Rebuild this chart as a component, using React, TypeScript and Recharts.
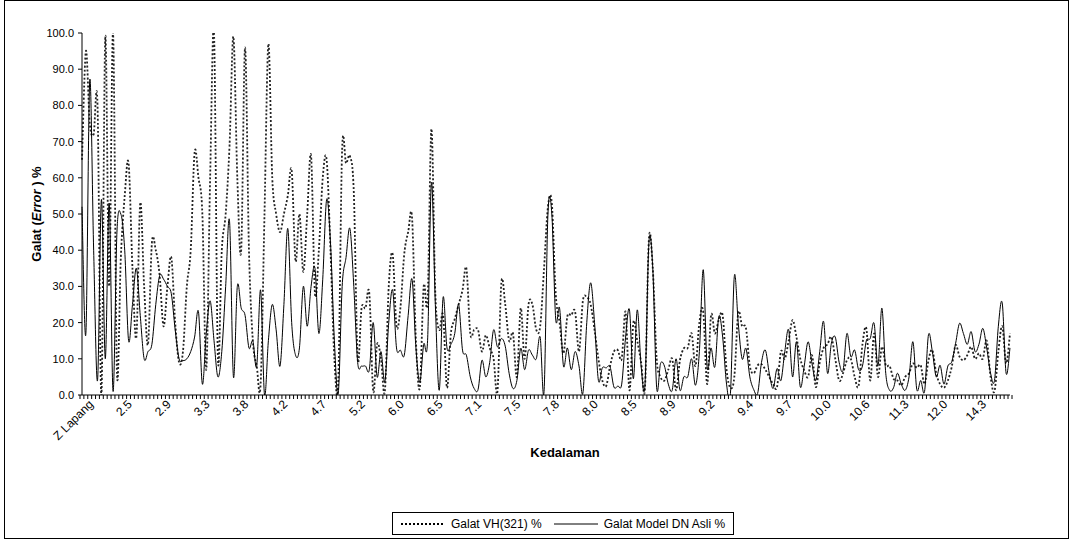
import { LineChart, Line, XAxis, YAxis, Legend, Label } from "recharts";

// depth labels shown on the category axis (every 10th category)
const depthLabels = [
  "Z Lapang", "2.5", "2.9", "3.3", "3.8", "4.2", "4.7", "5.2", "6.0", "6.5", "7.1", "7.5",
  "7.8", "8.0", "8.5", "8.9", "9.2", "9.4", "9.7", "10.0", "10.6", "11.3", "12.0", "14.3"
];
const LABEL_STEP = 10;
const CATEGORY_COUNT = 240;

const galatVH = [
  65, 95, 75, 72, 80, 0, 99, 30, 100, 6, 38, 55,
  64, 35, 16, 53, 30, 14, 42, 40, 33, 19, 30, 38, 20, 9, 12, 30, 40, 67,
  60, 50, 7, 60, 100, 10, 40,
  50, 69, 99, 60, 40, 96, 40, 15, 8, 3, 50, 97, 60, 50, 45, 50,
  55, 62, 37, 50, 34, 50, 66, 28, 40, 60, 65, 40, 10, 4, 68, 64, 66, 56, 10,
  24, 24, 28, 1, 14, 10, 1, 30, 39, 19, 24, 39, 45, 49, 15, 2, 30, 26,
  73.5, 28, 18, 22, 2, 17, 21, 25, 29, 35, 17, 18, 18, 12, 16.5, 13, 10, 1,
  31, 25, 15, 17, 5, 24, 10, 25, 25, 18, 19, 35,
  52, 53, 28, 20, 11.5, 21.7, 22, 23, 12, 26,
  27, 25, 18, 10, 4, 2.5, 8, 12, 12.4, 10,
  23, 1.3, 20, 15, 9, 2, 43, 35, 10, 5,
  4, 7, 10, 1.3, 9.6, 12.9, 13, 17, 8, 20,
  23, 3, 22, 17, 20.7, 22, 7, 2, 5, 22.6,
  19, 18.4, 8, 6, 8.2, 8.5, 7, 5, 3, 2.2,
  12, 10, 15, 20.7, 16, 10, 6.8, 5, 11, 2.2,
  9, 13, 14, 16, 10, 4, 6, 9.6, 10, 5,
  2.5, 14, 18.4, 4, 17, 5, 13.3, 8.2, 8, 4.5,
  4, 2.7, 5, 6, 8.7, 7.5, 8.2, 3, 9.6, 12.4,
  6, 3, 2, 4, 7.8, 13.8, 10.6, 9.6, 11, 13.3,
  10, 11.5, 10, 15, 5, 1, 12, 19,
  8.7, 17
];

const galatModel = [
  52, 17, 87, 40, 4, 54, 10, 53, 1, 45, 50, 40,
  15, 25, 35, 22, 10, 12, 14, 25, 33, 32, 30, 28, 18, 10, 9.5, 10, 12, 16,
  23, 3, 17, 26, 15, 5, 12,
  30, 48, 5, 30, 24, 22, 13, 15, 8, 29, 0, 15, 25, 18, 8, 25,
  46, 20, 11, 13, 30, 19, 30, 35, 17, 32, 54, 42, 15, 0.5, 30, 38, 46, 30, 9,
  8, 8, 7, 20, 5, 12, 3.6, 20, 29, 13, 12.4, 11, 22, 32, 13, 3.6, 14, 15,
  58.7, 25, 1.3, 27, 13, 14, 17, 25, 12.4, 11, 5, 1.8, 1.5, 9.6, 5, 9, 18, 13.3,
  15.6, 13.5, 6, 1.8, 4, 12.9, 7, 12.4, 11, 10, 16, 1,
  50, 50, 21, 24, 8, 13, 7, 12, 8, 0.5,
  20, 31, 20, 4, 7.5, 7.5, 7.8, 2.2, 2.5, 3,
  16, 23.5, 4.5, 23.5, 8, 3, 42, 35, 2, 8.7,
  8, 3, 1.3, 10, 1.3, 5, 5, 10, 2.7, 12,
  34.6, 7.8, 13, 7.8, 21.7, 16, 3, 0.4, 32.8, 20,
  10, 12.9, 5, 1.5, 0.4, 9, 12.4, 6, 1.8, 7.3,
  4, 12, 18, 5, 14.7, 2.2, 8, 14.7, 8.7, 4,
  12, 20.3, 6, 14.3, 16, 9, 6.8, 17, 10.6, 12.4,
  7, 8, 15, 15.6, 19.8, 8, 24, 6, 1.3, 2,
  6, 3, 1.3, 5, 14.7, 1.5, 4, 1, 16.6, 12,
  5, 8.2, 3, 8, 9.2, 14.3, 19.8, 17, 14, 17.5,
  12, 14, 18.4, 13, 6, 4, 19, 25.4,
  6, 13
];

const yTicks = [0, 10, 20, 30, 40, 50, 60, 70, 80, 90, 100];

const seriesOrder = ["vh", "model"];

const chartData = Array.from({ length: CATEGORY_COUNT }, (_, i) => ({
  idx: i,
  vh: galatVH[i] ?? null,
  model: galatModel[i] ?? null
}));

const FONT = "'Liberation Sans', Arial, sans-serif";

// Excel-like smoothed line (Catmull-Rom through every point)
function excelCurve(context: any) {
  let pts: number[][] = [];
  return {
    areaStart() {},
    areaEnd() {},
    lineStart() {
      pts = [];
    },
    point(x: number, y: number) {
      pts.push([+x, +y]);
    },
    lineEnd() {
      if (!pts.length) return;
      context.moveTo(pts[0][0], pts[0][1]);
      for (let i = 0; i < pts.length - 1; i++) {
        const p0 = pts[i - 1] || pts[i];
        const p1 = pts[i];
        const p2 = pts[i + 1];
        const p3 = pts[i + 2] || p2;
        context.bezierCurveTo(
          p1[0] + (p2[0] - p0[0]) / 6,
          p1[1] + (p2[1] - p0[1]) / 6,
          p2[0] - (p3[0] - p1[0]) / 6,
          p2[1] - (p3[1] - p1[1]) / 6,
          p2[0],
          p2[1]
        );
      }
    }
  };
}

function DepthTick(props: any) {
  const { x, y, payload } = props;
  const half = payload.offset || 2;
  const i = payload.value;
  const label = i % LABEL_STEP === 0 ? depthLabels[i / LABEL_STEP] : null;
  const ax = x + 12;
  const ay = y + 10;
  return (
    <g>
      <line x1={x - half} x2={x - half} y1={y} y2={y + 4} stroke="#000" />
      {i === CATEGORY_COUNT - 1 && <line x1={x + half} x2={x + half} y1={y} y2={y + 4} stroke="#000" />}
      {label && (
        <text x={ax} y={ay} transform={`rotate(-45 ${ax} ${ay})`} textAnchor="end" fontSize={12} fontFamily={FONT} fill="#000">
          {label}
        </text>
      )}
    </g>
  );
}

function YTitle(props: any) {
  const vb = props.viewBox;
  const cx = 36;
  const cy = vb.y + vb.height / 2;
  return (
    <text x={cx} y={cy} transform={`rotate(-90 ${cx} ${cy})`} textAnchor="middle" dominantBaseline="central" fontSize={13} fontWeight="bold" fontFamily={FONT} fill="#000">
      <tspan>Galat (</tspan>
      <tspan fontStyle="italic">Error</tspan>
      <tspan> ) %</tspan>
    </text>
  );
}

function XTitle() {
  return (
    <text x={565} y={452} textAnchor="middle" dominantBaseline="central" fontSize={13} fontWeight="bold" fontFamily={FONT} fill="#000">
      Kedalaman
    </text>
  );
}

const dashes: Record<string, string | undefined> = { vh: "2 2", model: undefined };

function LegendBox(props: any) {
  const items = props.payload || [];
  const ordered = seriesOrder.map((k) => items.find((it: any) => it.dataKey === k)).filter(Boolean);
  return (
    <div
      style={{
        display: "inline-flex",
        alignItems: "center",
        border: "1px solid #000",
        background: "#fff",
        height: 23,
        boxSizing: "border-box",
        padding: "0 8px",
        fontFamily: FONT,
        fontSize: 12,
        color: "#000",
        whiteSpace: "nowrap"
      }}
    >
      {ordered.map((it: any, n: number) => (
        <span key={it.dataKey} style={{ display: "inline-flex", alignItems: "center", marginLeft: n ? 12 : 0 }}>
          <svg width={44} height={6}>
            <line x1={0} y1={3} x2={44} y2={3} stroke="#000" strokeWidth={it.dataKey === "vh" ? 1.8 : 1} strokeDasharray={dashes[it.dataKey]} />
          </svg>
          <span style={{ marginLeft: 6 }}>{it.value}</span>
        </span>
      ))}
    </div>
  );
}

export default function App() {
  return (
    <div style={{ position: "relative", width: 1070, height: 539, background: "#fff" }}>
      <style>{"body{margin:0;background:#fff}"}</style>
      <LineChart width={1070} height={539} data={chartData} margin={{ top: 33, right: 60, bottom: 24, left: 32 }}>
        <XAxis
          dataKey="idx"
          type="category"
          interval={0}
          height={120}
          tickSize={0}
          tickMargin={0}
          tickLine={false}
          axisLine={{ stroke: "#000" }}
          tick={<DepthTick />}
        >
          <Label content={<XTitle />} />
        </XAxis>
        <YAxis
          width={50}
          domain={[0, 100]}
          ticks={yTicks}
          allowDataOverflow
          tickFormatter={(v: number) => v.toFixed(1)}
          tickSize={4}
          tickMargin={4}
          axisLine={{ stroke: "#000" }}
          tickLine={{ stroke: "#000" }}
          tick={{ fill: "#000", fontSize: 11, fontFamily: FONT }}
        >
          <Label content={<YTitle />} />
        </YAxis>
        <Legend
          layout="horizontal"
          verticalAlign="middle"
          align="center"
          content={<LegendBox />}
          wrapperStyle={{ left: 392, top: 512, width: "auto", height: "auto" }}
        />
        <Line
          dataKey="vh"
          name="Galat VH(321) %"
          type={excelCurve as any}
          stroke="#222"
          strokeWidth={1.8}
          strokeDasharray="2 2"
          dot={false}
          activeDot={false}
          isAnimationActive={false}
        />
        <Line
          dataKey="model"
          name="Galat Model DN Asli %"
          type={excelCurve as any}
          stroke="#000"
          strokeWidth={1}
          dot={false}
          activeDot={false}
          isAnimationActive={false}
        />
      </LineChart>
      <div
        style={{
          position: "absolute",
          left: 4,
          top: 0,
          width: 1065,
          height: 539,
          border: "1px solid #000",
          boxSizing: "border-box",
          pointerEvents: "none"
        }}
      />
    </div>
  );
}
